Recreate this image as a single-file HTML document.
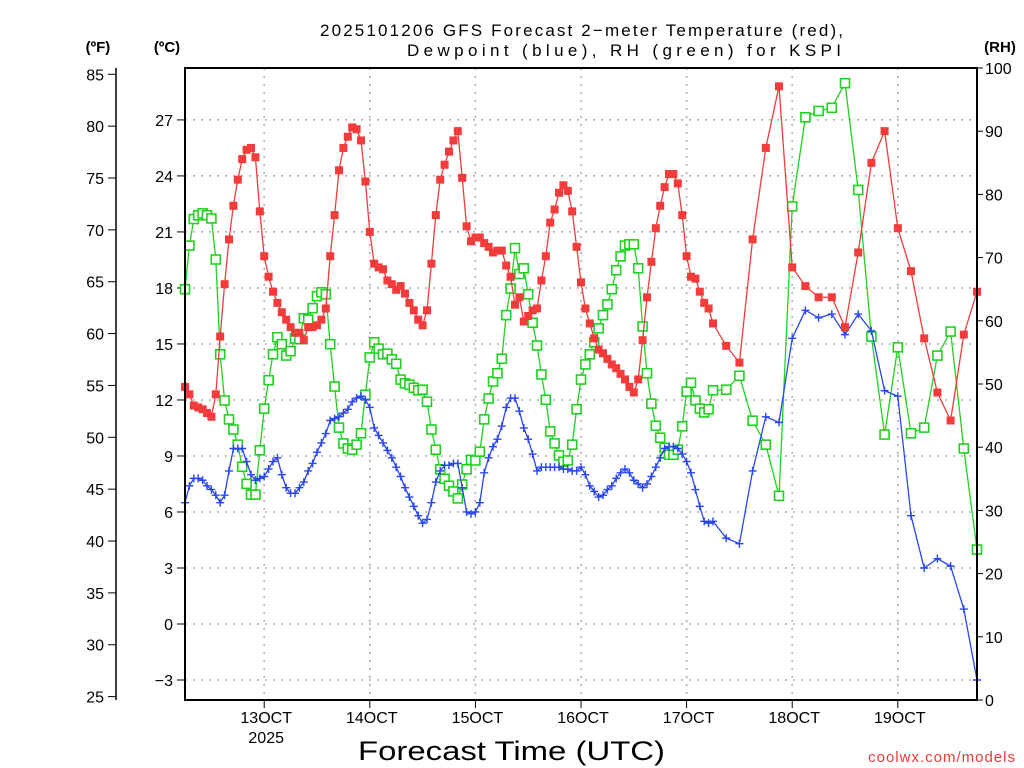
<!DOCTYPE html>
<html><head><meta charset="utf-8"><style>
html,body{margin:0;padding:0;background:#fff;}
svg{display:block;font-family:"Liberation Sans",sans-serif;}
</style></head><body>
<svg id="chart" width="1024" height="768" viewBox="0 0 1024 768" xmlns="http://www.w3.org/2000/svg">
<text x="320" y="36" textLength="523" lengthAdjust="spacing" font-size="17" fill="#000">2025101206 GFS Forecast 2−meter Temperature (red),</text>
<text x="407" y="56" textLength="434" lengthAdjust="spacing" font-size="17" fill="#000">Dewpoint (blue), RH (green) for KSPI</text>
<text x="98" y="52" text-anchor="middle" font-size="15" font-weight="bold">(ºF)</text>
<text x="167" y="52" text-anchor="middle" font-size="15" font-weight="bold">(ºC)</text>
<text x="1000" y="52" text-anchor="middle" font-size="15" font-weight="bold">(RH)</text>
<text x="358" y="760" textLength="307" lengthAdjust="spacingAndGlyphs" font-size="27" fill="#000">Forecast Time (UTC)</text>
<text x="1016" y="762" text-anchor="end" font-size="15" fill="#e83a3a" letter-spacing="1">coolwx.com/models</text>
<g id="grid"></g><g id="axes"></g><g id="series"></g>
<rect x="185" y="68" width="792" height="632" fill="none" stroke="#000" stroke-width="2"/>
</svg>
<script>
const hours=[];for(let h=0;h<=120;h++)hours.push(h);for(let h=123;h<=180;h+=3)hours.push(h);
const tempC=[12.7,12.3,11.7,11.6,11.5,11.3,11.1,12.3,15.4,18.2,20.6,22.4,23.8,24.9,25.4,25.5,25.0,22.1,19.7,18.6,17.8,17.2,16.7,16.3,15.9,15.6,15.6,15.2,15.9,15.9,16.0,16.3,16.9,19.7,21.9,24.3,25.5,26.1,26.6,26.5,25.9,23.7,21.0,19.3,19.1,19.0,18.4,18.2,17.9,18.1,17.7,17.2,16.8,16.3,16.0,16.8,19.3,21.9,23.8,24.6,25.3,25.9,26.4,23.9,21.3,20.5,20.7,20.7,20.4,20.2,19.9,20.0,20.0,19.2,18.6,17.1,17.5,16.2,16.5,16.8,16.9,18.4,19.7,21.5,22.2,23.1,23.5,23.2,22.1,20.2,18.3,16.9,16.1,15.3,14.7,14.5,14.2,13.9,13.7,13.4,13.1,12.7,12.4,13.1,15.2,17.5,19.4,21.2,22.4,23.4,24.1,24.1,23.6,21.9,19.7,18.6,18.5,17.8,17.2,16.9,16.1,14.9,14.0,20.6,25.5,28.8,19.1,18.1,17.5,17.5,15.9,19.9,24.7,26.4,21.2,18.9,15.3,12.4,10.9,15.5,17.8];
const dewC=[6.5,7.4,7.8,7.8,7.7,7.4,7.2,6.9,6.5,6.9,8.2,9.4,9.4,9.4,8.7,8.0,7.7,7.8,7.9,8.3,8.7,8.9,8.0,7.3,7.0,7.0,7.3,7.6,8.2,8.6,9.2,9.7,10.2,10.9,11.0,11.1,11.3,11.5,11.9,12.1,12.2,12.0,11.6,10.5,10.1,9.7,9.3,8.9,8.4,7.9,7.3,6.8,6.3,5.8,5.4,5.6,6.5,7.6,8.2,8.5,8.5,8.6,8.6,7.3,6.0,5.9,6.0,6.5,8.1,8.9,9.5,9.9,10.6,11.6,12.1,12.1,11.4,10.5,9.9,9.1,8.2,8.4,8.4,8.4,8.4,8.4,8.3,8.3,8.2,8.2,8.4,8.0,7.4,7.1,6.8,6.9,7.2,7.4,7.8,8.1,8.3,8.1,7.7,7.5,7.3,7.5,7.9,8.4,8.9,9.4,9.5,9.5,9.4,9.1,8.7,8.1,7.2,6.3,5.5,5.4,5.5,4.6,4.3,8.2,11.1,10.8,15.3,16.8,16.4,16.6,15.5,16.6,15.7,12.5,12.2,5.8,3.0,3.5,3.1,0.8,-3.0];
const rh=[65.0,71.9,76.1,76.7,77.0,76.7,76.2,69.7,54.7,47.4,44.4,42.8,40.4,36.9,34.2,32.5,32.5,39.5,46.1,50.6,54.7,57.4,56.3,54.5,55.2,57.2,57.1,60.4,60.2,62.0,63.9,64.5,64.2,56.3,49.6,43.1,40.6,39.8,39.6,40.4,42.2,48.3,54.2,56.6,55.6,54.7,54.8,53.9,53.2,50.7,50.1,49.9,49.4,49.0,49.1,47.2,42.8,39.6,36.5,35.0,33.9,33.0,31.9,34.1,36.5,38.0,37.9,39.3,44.4,47.7,50.4,51.7,54.0,60.9,65.1,71.5,67.4,68.3,64.2,59.7,56.1,51.5,47.5,42.5,40.6,38.7,37.7,37.9,40.4,46.0,50.7,53.1,54.7,56.6,58.8,60.9,62.6,65.0,68.0,70.2,71.9,72.1,72.1,68.3,59.1,51.7,46.9,43.4,41.5,39.9,38.8,38.8,39.6,43.3,48.8,50.2,47.4,46.1,45.5,46.0,49.0,49.1,51.3,44.2,40.4,32.3,78.1,92.2,93.2,93.7,97.6,80.7,57.5,42.0,55.8,42.2,43.1,54.5,58.3,39.8,23.8];
const cTicks=[-3,0,3,6,9,12,15,18,21,24,27];
const fTicks=[25,30,35,40,45,50,55,60,65,70,75,80,85];
const rhTicks=[0,10,20,30,40,50,60,70,80,90,100];
const dayLabels=["13OCT","14OCT","15OCT","16OCT","17OCT","18OCT","19OCT"];
const dayHours=[18,42,66,90,114,138,162];

const NS="http://www.w3.org/2000/svg";
const X0=185,X1=977,Y0=68,Y1=700;
const xs=h=>X0+(X1-X0)*h/180;
const yC=c=>624-(c)*18.67;
const yF=f=>yC((f-32)*5/9);
const yRH=r=>Y1-(Y1-Y0)*r/100;
function mk(tag,attrs,parent){const e=document.createElementNS(NS,tag);for(const k in attrs)e.setAttribute(k,attrs[k]);parent.appendChild(e);return e;}
const grid=document.getElementById('grid'),axes=document.getElementById('axes'),ser=document.getElementById('series');

cTicks.forEach(c=>{const y=yC(c);
 const g=mk('line',{x1:X0,x2:X1,y1:y,y2:y,stroke:'#aaa','stroke-dasharray':'2,6','stroke-width':1.5},grid);
 
 mk('line',{x1:X0-8,x2:X0,y1:y,y2:y,stroke:'#000','stroke-width':1},axes);
 const t=mk('text',{x:X0-12,y:y+6,'text-anchor':'end','font-size':16},axes);t.textContent=c<0?'−'+Math.abs(c):c;
 });
mk('line',{x1:116,x2:116,y1:Y0,y2:Y1,stroke:'#000','stroke-width':1.5},axes);
fTicks.forEach(f=>{const y=yF(f);
 mk('line',{x1:108,x2:116,y1:y,y2:y,stroke:'#000','stroke-width':1},axes);
 const t=mk('text',{x:104,y:y+6,'text-anchor':'end','font-size':16},axes);t.textContent=f;
 });
rhTicks.forEach(r=>{const y=yRH(r);
 mk('line',{x1:X1,x2:X1+6,y1:y,y2:y,stroke:'#000','stroke-width':1},axes);
 const t=mk('text',{x:X1+8,y:y+6,'font-size':16},axes);t.textContent=r;
 });
dayHours.forEach((h,i)=>{const x=xs(h);
 const g=mk('line',{x1:x,x2:x,y1:Y0,y2:Y1,stroke:'#aaa','stroke-dasharray':'2,6','stroke-width':1.5},grid);
 
 mk('line',{x1:x,x2:x,y1:Y1,y2:Y1+8,stroke:'#000','stroke-width':1},axes);
 const t=mk('text',{x:x+2,y:Y1+23,'text-anchor':'middle','font-size':16},axes);t.textContent=dayLabels[i];
 
 if(i===0){const t2=mk('text',{x:x+2,y:Y1+43,'text-anchor':'middle','font-size':16},axes);t2.textContent='2025';
 }});

function series(vals,yf,color,name,marker){
 const pts=vals.map((v,i)=>[xs(hours[i]),yf(v)]);
 const pl=mk('polyline',{points:pts.map(p=>p.join(',')).join(' '),fill:'none',stroke:color,'stroke-width':1.3},ser);
 
 pts.forEach(p=>{let m;
  if(marker==='fill'){m=mk('rect',{x:p[0]-4,y:p[1]-4,width:8,height:8,fill:color},ser);}
  else if(marker==='open'){m=mk('rect',{x:p[0]-4.5,y:p[1]-4.5,width:9,height:9,fill:'#fff',stroke:color,'stroke-width':1.6},ser);}
  else{m=mk('path',{d:`M${p[0]-4},${p[1]}h8M${p[0]},${p[1]-4}v8`,stroke:color,'stroke-width':1.4,fill:'none'},ser);}
  });
}
series(rh,yRH,'#1fd21f','rh','open');
series(dewC,yC,'#2a46f0','dewpoint','plus');
series(tempC,yC,'#f23c3c','temperature','fill');
</script>
</body></html>
